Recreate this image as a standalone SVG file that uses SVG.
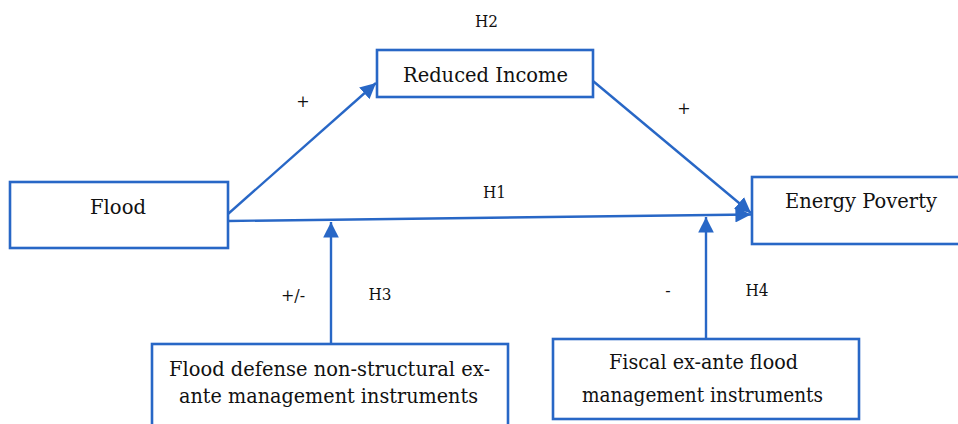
<svg xmlns="http://www.w3.org/2000/svg" width="958" height="424" viewBox="0 0 958 424">
<style>
.box{fill:#fff;stroke:#2867c6;stroke-width:2.6}
.t{font-family:"DejaVu Serif","Liberation Serif",serif;font-size:20.5px;fill:#111}
.s{font-family:"DejaVu Serif","Liberation Serif",serif;font-size:16px;fill:#111}
.c{stroke:#2867c6;stroke-width:2.4;fill:none}
</style>
<defs>
<marker id="ah2" viewBox="0 0 10 10" refX="10" refY="5" markerWidth="6.5" markerHeight="6.5" orient="auto">
<path d="M0,0 L10,5 L0,10 z" fill="#2867c6"/>
</marker>
</defs>
<rect width="958" height="424" fill="#fff"/>
<g id="connectors">
<line class="c" x1="228" y1="214" x2="376" y2="83" marker-end="url(#ah2)"/>
<line class="c" x1="593" y1="81" x2="751" y2="213" marker-end="url(#ah2)"/>
<line class="c" x1="228" y1="221" x2="751" y2="214.5" marker-end="url(#ah2)"/>
<line class="c" x1="331" y1="344" x2="331" y2="222" marker-end="url(#ah2)"/>
<line class="c" x1="706" y1="339" x2="706" y2="217" marker-end="url(#ah2)"/>
</g>
<g id="flood">
<rect class="box" x="10" y="182" width="218" height="66"/>
<text class="t" x="118" y="214" text-anchor="middle" textLength="56" lengthAdjust="spacingAndGlyphs">Flood</text>
</g>
<g id="reduced-income">
<rect class="box" x="377" y="50" width="216" height="47"/>
<text class="t" x="485.5" y="82" text-anchor="middle" textLength="165" lengthAdjust="spacingAndGlyphs">Reduced Income</text>
</g>
<g id="energy-poverty">
<rect class="box" x="752" y="177" width="210" height="67"/>
<text class="t" x="861" y="208" text-anchor="middle" textLength="152" lengthAdjust="spacingAndGlyphs">Energy Poverty</text>
</g>
<g id="flood-defense">
<rect class="box" x="152" y="344" width="356" height="90"/>
<text class="t" x="329.5" y="376" text-anchor="middle" textLength="321" lengthAdjust="spacingAndGlyphs">Flood defense non-structural ex-</text>
<text class="t" x="328.5" y="403" text-anchor="middle" textLength="299" lengthAdjust="spacingAndGlyphs">ante management instruments</text>
</g>
<g id="fiscal">
<rect class="box" x="553" y="339" width="306" height="80"/>
<text class="t" x="703.5" y="369" text-anchor="middle" textLength="189" lengthAdjust="spacingAndGlyphs">Fiscal ex-ante flood</text>
<text class="t" x="702.5" y="402" text-anchor="middle" textLength="241" lengthAdjust="spacingAndGlyphs">management instruments</text>
</g>
<g id="labels">
<text class="s" x="486.5" y="27" text-anchor="middle" textLength="23" lengthAdjust="spacingAndGlyphs">H2</text>
<text class="s" x="494.5" y="198" text-anchor="middle" textLength="23" lengthAdjust="spacingAndGlyphs">H1</text>
<text class="s" x="303" y="107" text-anchor="middle" font-size="14">+</text>
<text class="s" x="684" y="114" text-anchor="middle" font-size="14">+</text>
<text class="s" x="293" y="301" text-anchor="middle" font-size="15">+/-</text>
<text class="s" x="380" y="300" text-anchor="middle" textLength="23" lengthAdjust="spacingAndGlyphs">H3</text>
<text class="s" x="668" y="296" text-anchor="middle" font-size="15">-</text>
<text class="s" x="757" y="296" text-anchor="middle" textLength="23" lengthAdjust="spacingAndGlyphs">H4</text>
</g>
</svg>
